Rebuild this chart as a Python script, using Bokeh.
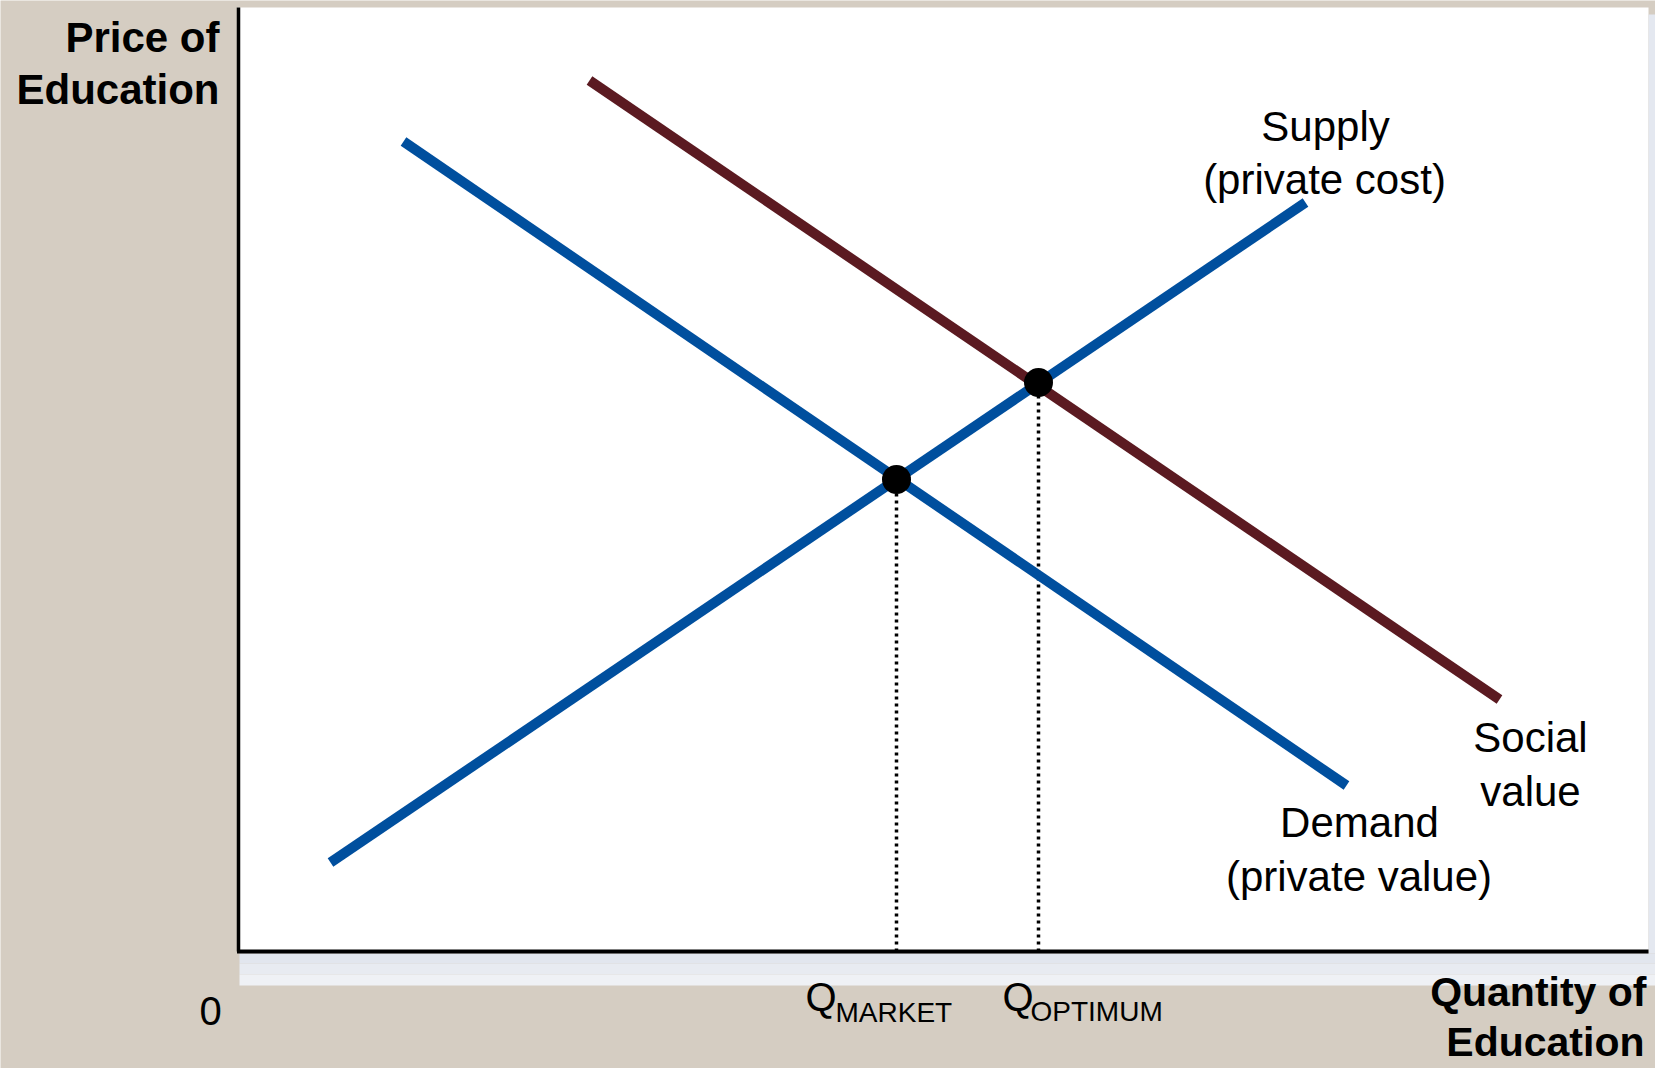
from bokeh.plotting import figure
from bokeh.models import Range1d
from bokeh.core.properties import value
from bokeh.embed import file_html
from bokeh.resources import INLINE

# ---- data (quantity, price) ----
supply_q = [9.2, 106.7]
supply_p = [8.9, 74.9]
demand_q = [16.5, 110.8]
demand_p = [81.0, 16.6]
social_q = [35.1, 126.1]
social_p = [87.1, 25.2]
eq_q = [65.8, 80.0]          # Q_MARKET, Q_OPTIMUM
eq_p = [47.2, 56.9]
eq_subs = ["MARKET", "OPTIMUM"]

BEIGE = "#d5cdc2"
BLUE = "#004f9e"
MAROON = "#5b1a21"
FONT = value("Liberation Sans")

p = figure(width=1655, height=1068,
           x_range=Range1d(-23.8, 141.7), y_range=Range1d(-11.7, 95.1),
           x_axis_type=None, y_axis_type=None,
           min_border=0, toolbar_location=None, output_backend="svg",
           background_fill_color=BEIGE, border_fill_color=BEIGE,
           outline_line_color=None)

# white plotting panel and its soft shadow
p.quad(left=[-0.15], right=[141.0], bottom=[0], top=[94.4], fill_color="white", line_color=None)
p.quad(left=[0.1, 0.1, 0.1], right=[142, 142, 142],
       top=[-0.2, -1.2, -2.3], bottom=[-1.2, -2.3, -3.4],
       fill_color=["#e2e6ee", "#e8ebf1", "#eff1f5"], line_color=None)
p.quad(left=[141.0], right=[142], top=[93.7], bottom=[-0.2],
       fill_color="#e4e8f0", line_color=None)

# axes
p.line([0, 0], [0, 94.4], line_color="black", line_width=3.5)
p.line([-0.15, 141.0], [0, 0], line_color="black", line_width=4)

# dotted guides from equilibria to the quantity axis
for q, pr in zip(eq_q, eq_p):
    p.line([q, q], [0, pr], line_color="black", line_width=3.5, line_dash="3 4")

# curves
p.line(social_q, social_p, line_color=MAROON, line_width=10)
p.line(supply_q, supply_p, line_color=BLUE, line_width=10)
p.line(demand_q, demand_p, line_color=BLUE, line_width=10)

# equilibrium points
p.scatter(eq_q, eq_p, size=29, fill_color="black", line_color=None)

# curve labels
p.text(x=[108.7, 108.6, 129.2, 129.2, 112.1, 112.05],
       y=[82.5, 77.2, 21.4, 16.0, 12.9, 7.5],
       text=["Supply", "(private cost)", "Social", "value", "Demand", "(private value)"],
       text_font=FONT, text_font_size="42px", text_align="center",
       text_baseline="alphabetic", text_color="black")

# axis titles
p.text(x=[-1.9, -1.9], y=[91.4, 86.2], text=["Price of", "Education"],
       text_font=FONT, text_font_size="42px", text_font_style="bold",
       text_align="right", text_baseline="alphabetic", text_color="black")
p.text(x=[140.8, 140.6], y=[-4.0, -9.0], text=["Quantity of", "Education"],
       text_font=FONT, text_font_size="41px", text_font_style="bold",
       text_align="right", text_baseline="alphabetic", text_color="black")

# origin
p.text(x=[-2.8], y=[-5.96], text=["0"], text_font=FONT, text_font_size="40px",
       text_align="center", text_baseline="alphabetic", text_color="black")

# Q tick labels with subscripts
p.text(x=[eq_q[0] - 9.1, eq_q[1] - 3.6], y=[-4.56, -4.56],
       text=["Q", "Q"], text_font=FONT, text_font_size="40px",
       text_align="left", text_baseline="alphabetic", text_color="black")
p.text(x=[eq_q[0] - 6.1, eq_q[1] - 0.8], y=[-6.1, -6.0], text=eq_subs,
       text_font=FONT, text_font_size="28px",
       text_align="left", text_baseline="alphabetic", text_color="black")

open("out.html", "w").write(file_html(p, INLINE))
